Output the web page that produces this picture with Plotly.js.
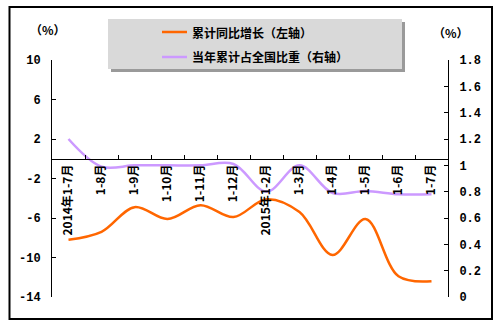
<!DOCTYPE html>
<html>
<head>
<meta charset="utf-8">
<script src="https://cdn.plot.ly/plotly-3.0.1.min.js"></script>
<style>html,body{margin:0;padding:0;background:#fff;}#chart{width:503px;height:329px;}</style>
</head>
<body>
<div id="chart"></div>
<script>
const categories = ["2014年1-7月","1-8月","1-9月","1-10月","1-11月","1-12月","2015年1-2月","1-3月","1-4月","1-5月","1-6月","1-7月"];
const growth = [-8.2, -7.4, -4.9, -6.1, -4.7, -5.9, -4.1, -5.4, -9.75, -6.1, -11.9, -12.4];
const share = [1.2, 0.99, 1.0, 1.0, 1.0, 1.01, 0.8, 1.0, 0.79, 0.805, 0.78, 0.78];
const seriesNames = ["累计同比增长（左轴）", "当年累计占全国比重（右轴）"];
const leftTicks = [10, 6, 2, -2, -6, -10, -14];
const rightTicks = [0, 0.2, 0.4, 0.6, 0.8, 1, 1.2, 1.4, 1.6, 1.8];

const W = 503, H = 329, L = 52, R = 448, T = 60, B = 297;
const px = x => (x - L) / (R - L);
const py = y => (B - y) / (B - T);
const numFont = {family: "Liberation Mono, Noto Sans CJK SC", size: 12, color: "#000", weight: "bold"};
const cjkFont = {family: "Noto Sans CJK SC, Liberation Mono", size: 12, color: "#000", weight: "bold"};

const traces = [
  {x: categories, y: growth, name: seriesNames[0], type: "scatter", mode: "lines",
   line: {color: "#ff6600", width: 2.5, shape: "spline", smoothing: 1}, yaxis: "y", showlegend: false},
  {x: categories, y: share, name: seriesNames[1], type: "scatter", mode: "lines",
   line: {color: "#cc99ff", width: 2.5, shape: "spline", smoothing: 1}, yaxis: "y2", showlegend: false}
];

const zeroPos = (0 - (-14)) / 24;

const shapes = [
  {type: "rect", xref: "paper", yref: "paper", x0: px(9.5), x1: px(492), y0: py(319), y1: py(7),
   line: {color: "#000", width: 2}, fillcolor: "rgba(0,0,0,0)", layer: "below"},
  {type: "rect", xref: "paper", yref: "paper", x0: px(111), x1: px(405), y0: py(72), y1: py(22),
   line: {width: 0}, fillcolor: "#9a9a9a", layer: "above"},
  {type: "rect", xref: "paper", yref: "paper", x0: px(108), x1: px(402), y0: py(69), y1: py(19),
   line: {width: 0}, fillcolor: "#d9d9d9", layer: "above"},
  {type: "line", xref: "paper", yref: "paper", x0: px(162), x1: px(187), y0: py(32), y1: py(32),
   line: {color: traces[0].line.color, width: 2.5}, layer: "above"},
  {type: "line", xref: "paper", yref: "paper", x0: px(162), x1: px(187), y0: py(57), y1: py(57),
   line: {color: traces[1].line.color, width: 2.5}, layer: "above"}
];

const annotations = [
  {xref: "paper", yref: "paper", x: px(190), y: py(32), text: seriesNames[0], showarrow: false,
   xanchor: "left", yanchor: "middle", font: cjkFont},
  {xref: "paper", yref: "paper", x: px(190), y: py(57), text: seriesNames[1], showarrow: false,
   xanchor: "left", yanchor: "middle", font: cjkFont},
  {xref: "paper", yref: "paper", x: px(48), y: py(29), text: "（%）", showarrow: false,
   xanchor: "center", yanchor: "middle", font: cjkFont},
  {xref: "paper", yref: "paper", x: px(451), y: py(32), text: "（%）", showarrow: false,
   xanchor: "center", yanchor: "middle", font: cjkFont}
];

const layout = {
  width: W, height: H,
  margin: {l: L, r: W - R, t: T, b: H - B, pad: 0},
  paper_bgcolor: "#fff", plot_bgcolor: "#fff",
  showlegend: false,
  xaxis: {type: "category", anchor: "free", position: zeroPos, showline: true, linecolor: "#000", linewidth: 1,
    ticks: "inside", ticklen: 4, tickcolor: "#000", tickson: "boundaries", tickangle: -90,
    tickfont: cjkFont, showgrid: false, zeroline: false, range: [-0.5, 11.5], automargin: false},
  yaxis: {range: [-14, 10], tickvals: leftTicks, ticktext: leftTicks.map(String), showline: true, linecolor: "#000", linewidth: 1,
    ticks: "inside", ticklen: 4, tickcolor: "#000", showgrid: false, zeroline: false, tickfont: numFont, automargin: false, ticklabelstandoff: 8},
  yaxis2: {range: [0, 1.8], overlaying: "y", side: "right", tickvals: rightTicks, ticktext: rightTicks.map(String),
    showline: true, linecolor: "#000", linewidth: 1, ticks: "inside", ticklen: 4, tickcolor: "#000",
    showgrid: false, zeroline: false, tickfont: numFont, automargin: false, ticklabelstandoff: 8},
  shapes: shapes,
  annotations: annotations
};

Plotly.newPlot("chart", traces, layout, {staticPlot: true, displayModeBar: false});
</script>
</body>
</html>
